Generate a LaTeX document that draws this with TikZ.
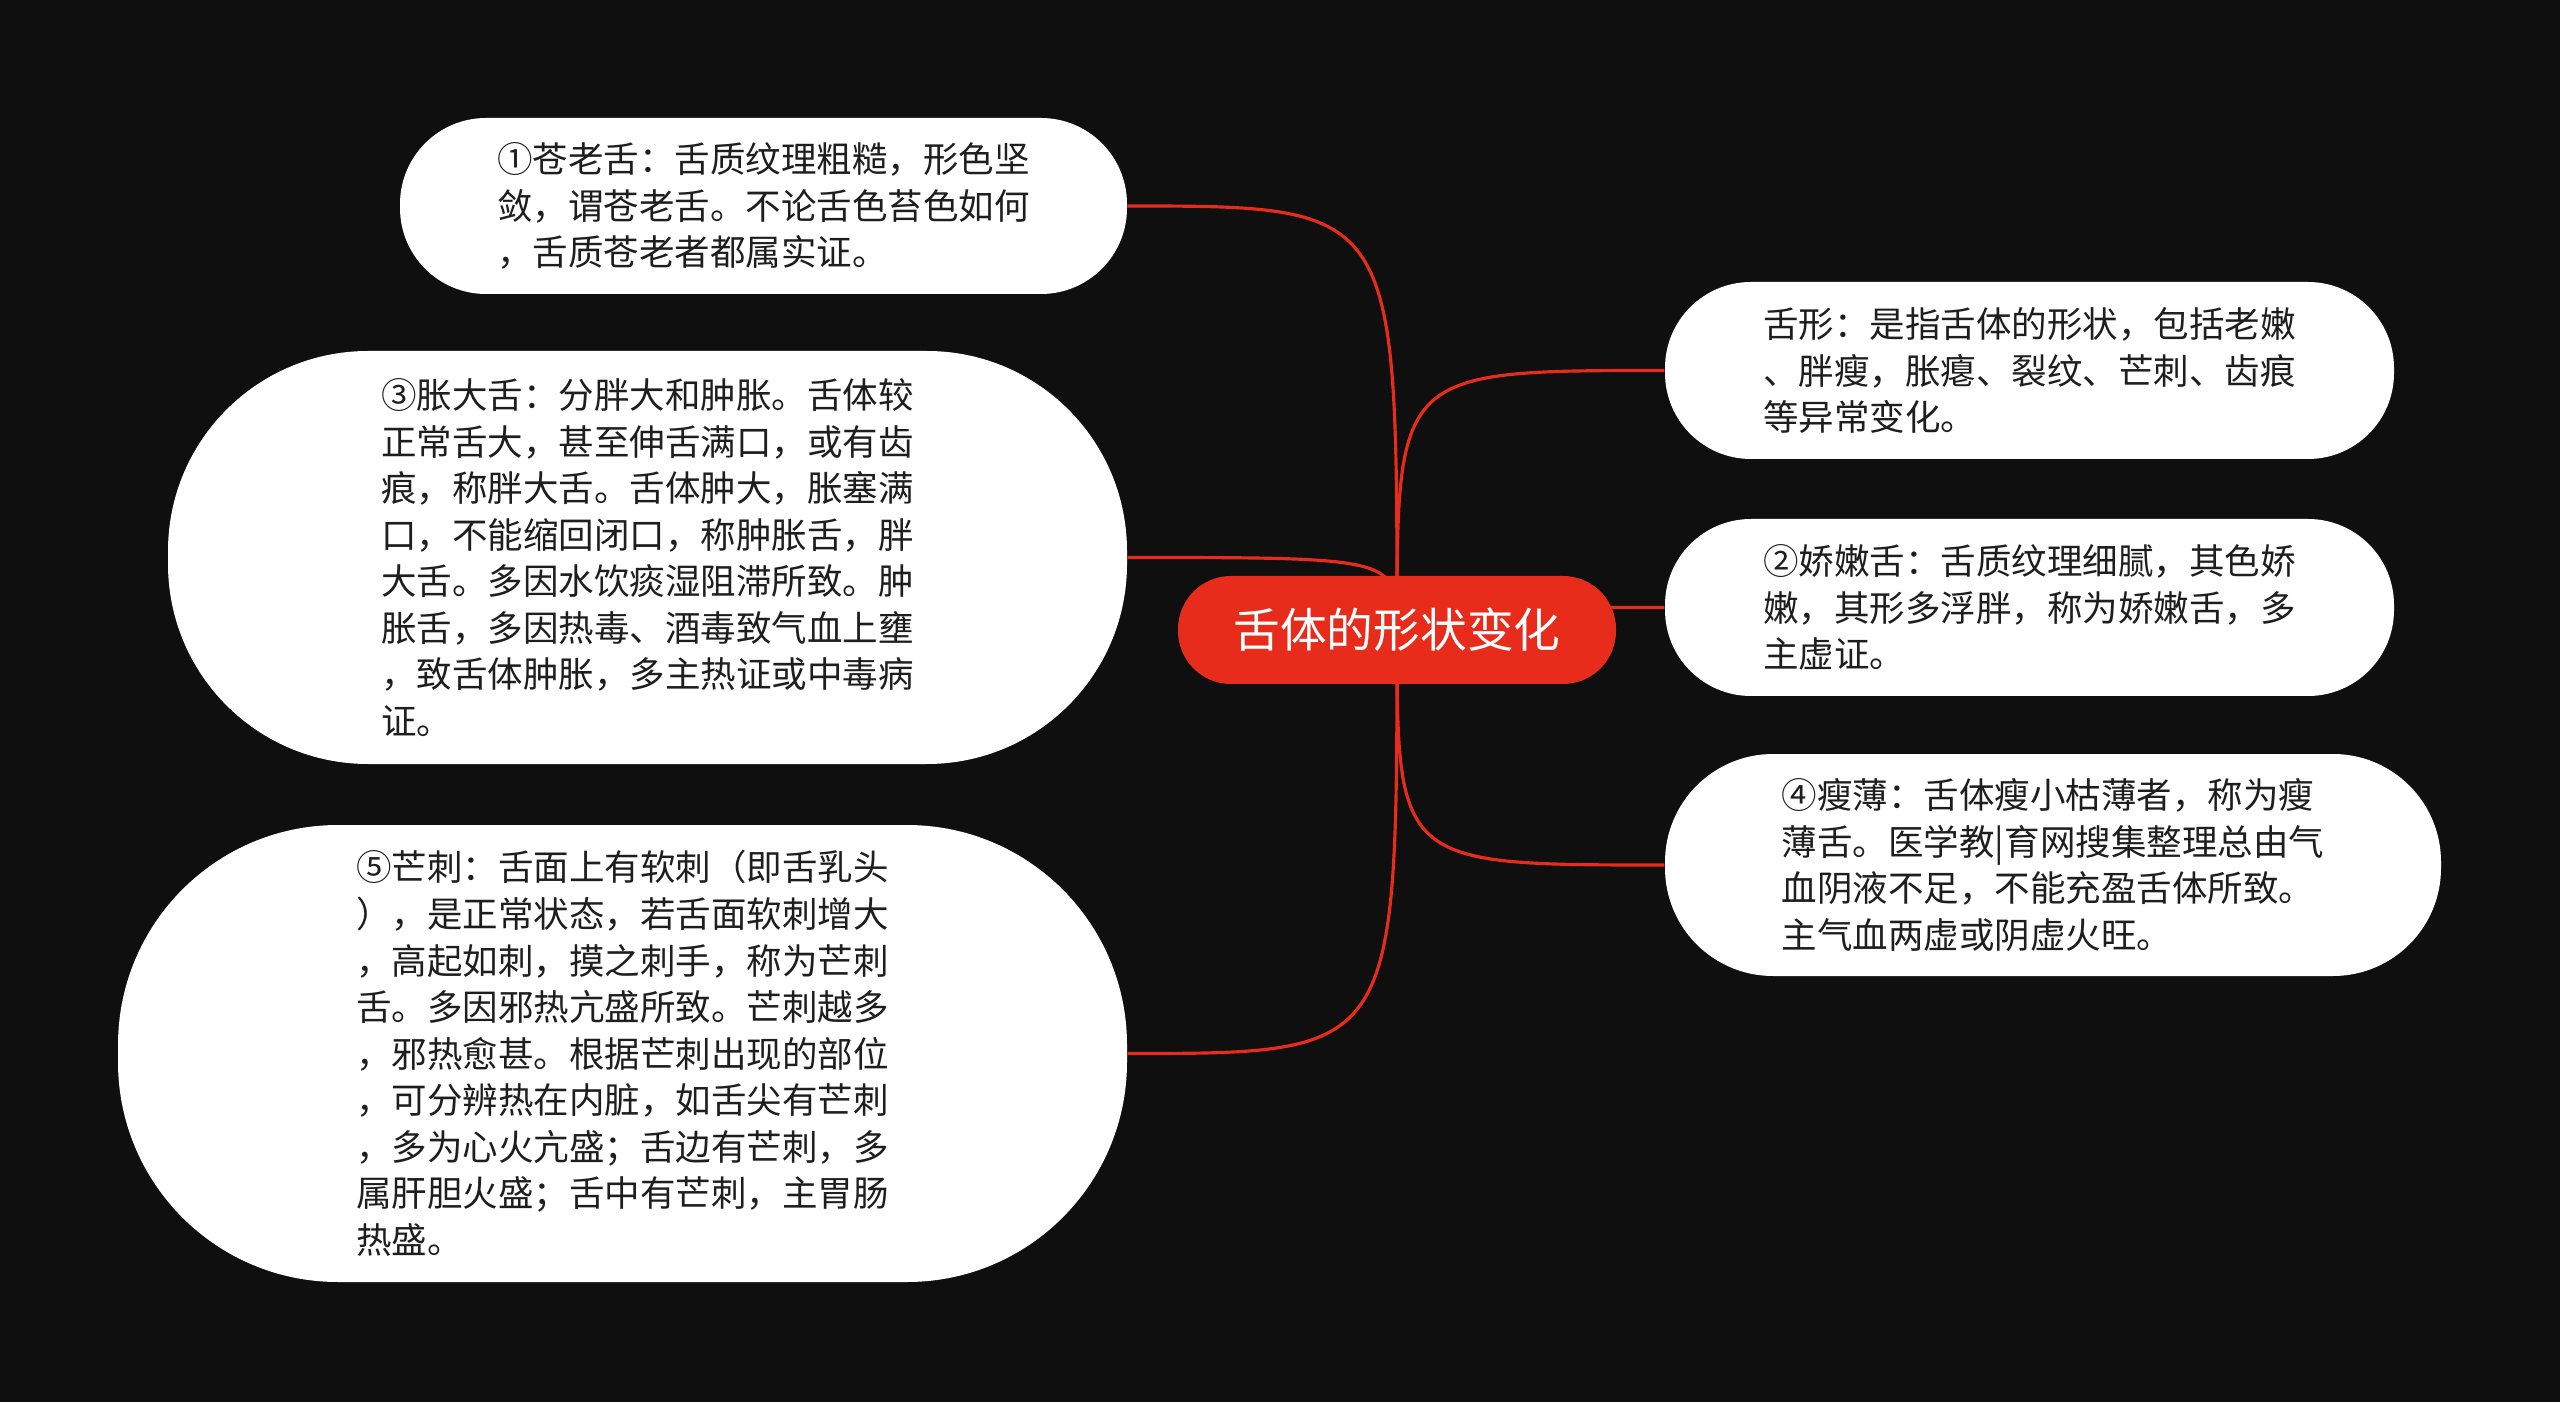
\documentclass[tikz,border=0pt]{standalone}
\usepackage{fontspec}
\setmainfont{Noto Sans CJK SC}
\usepackage{tikz}
\usetikzlibrary{backgrounds}
\definecolor{bgblack}{RGB}{15,15,15}
\definecolor{mapred}{RGB}{232,44,28}
\definecolor{inkgray}{RGB}{30,30,30}

\begin{document}
\begin{tikzpicture}[leaf/.style={fill=white,rounded corners=#1,align=left,text=inkgray,font=\fontsize{10.1pt}{13.25pt}\selectfont},
link/.style={color=mapred,line width=0.9pt}]
\useasboundingbox(0,0)rectangle(25.6,14.02);
\begin{pgfonlayer}{background}
\fill[bgblack](0,0)rectangle(25.6,14.02);
\end{pgfonlayer}
\node[fill=mapred,rounded corners=0.53cm,minimum width=4.38cm,minimum height=1.08cm,text=white,font=\fontsize{13.3pt}{16pt}\selectfont](root)at(13.97,7.72){舌体的形状变化};
\node[leaf=0.86cm,minimum width=7.27cm,minimum height=1.76cm](laoshe)at(7.635,11.96){①苍老舌：舌质纹理粗糙，形色坚\\敛，谓苍老舌。不论舌色苔色如何\\，舌质苍老者都属实证。};
\node[leaf=2.0cm,minimum width=9.59cm,minimum height=4.13cm](zhangda)at(6.475,8.445){③胀大舌：分胖大和肿胀。舌体较\\正常舌大，甚至伸舌满口，或有齿\\痕，称胖大舌。舌体肿大，胀塞满\\口，不能缩回闭口，称肿胀舌，胖\\大舌。多因水饮痰湿阻滞所致。肿\\胀舌，多因热毒、酒毒致气血上壅\\，致舌体肿胀，多主热证或中毒病\\证。};
\node[leaf=2.2cm,minimum width=10.09cm,minimum height=4.57cm](mangci)at(6.225,3.485){⑤芒刺：舌面上有软刺（即舌乳头\\），是正常状态，若舌面软刺增大\\，高起如刺，摸之刺手，称为芒刺\\舌。多因邪热亢盛所致。芒刺越多\\，邪热愈甚。根据芒刺出现的部位\\，可分辨热在内脏，如舌尖有芒刺\\，多为心火亢盛；舌边有芒刺，多\\属肝胆火盛；舌中有芒刺，主胃肠\\热盛。};
\node[leaf=0.86cm,minimum width=7.29cm,minimum height=1.77cm](shexing)at(20.295,10.315){舌形：是指舌体的形状，包括老嫩\\、胖瘦，胀瘪、裂纹、芒刺、齿痕\\等异常变化。};
\node[leaf=0.86cm,minimum width=7.29cm,minimum height=1.77cm](jiaonen)at(20.295,7.945){②娇嫩舌：舌质纹理细腻，其色娇\\嫩，其形多浮胖，称为娇嫩舌，多\\主虚证。};
\node[leaf=1.08cm,minimum width=7.76cm,minimum height=2.22cm](shoubo)at(20.53,5.37){④瘦薄：舌体瘦小枯薄者，称为瘦\\薄舌。医学教|育网搜集整理总由气\\血阴液不足，不能充盈舌体所致。\\主气血两虚或阴虚火旺。};
\begin{pgfonlayer}{background}
\foreach \leafname/\side in {laoshe/east,zhangda/east,mangci/east,shexing/west,jiaonen/west,shoubo/west}
  \draw[link](root.center)..controls(root.center|-\leafname.\side)..(\leafname.\side);
\end{pgfonlayer}
\end{tikzpicture}
\end{document}
